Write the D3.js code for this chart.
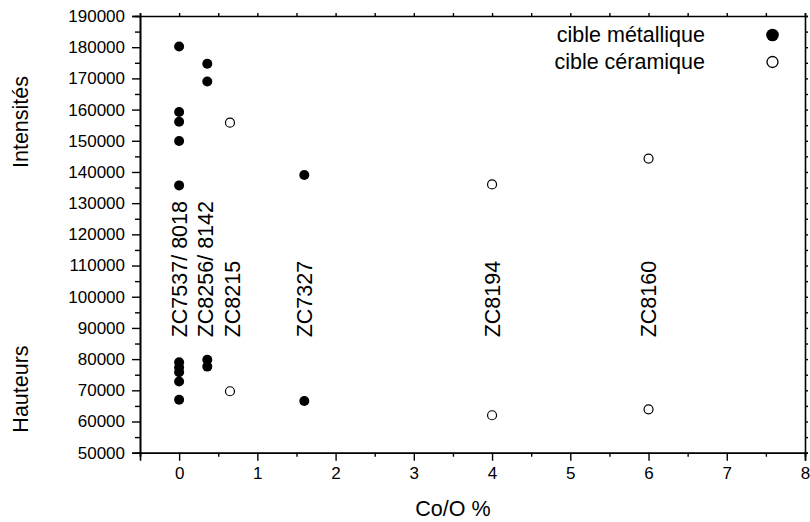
<!DOCTYPE html>
<html><head><meta charset="utf-8">
<script src="https://cdn.jsdelivr.net/npm/d3@7/dist/d3.min.js"></script>
<style>
body{margin:0;background:#fff;}
svg{display:block;font-family:"Liberation Sans",Arial,sans-serif;}
</style></head><body>
<svg id="chart" width="810" height="522"></svg>
<script>
// ---- data ----
const metalX = [0,0,0,0,0, 0,0,0,0,0, 0.36,0.36, 0.36,0.36, 1.6,1.6];
const metalY = [180200,159200,156100,149900,135700, 79000,77300,75800,72800,67000, 174700,169000, 79800,77600, 139000,66600];
const ceramX = [0.65,0.65, 4,4, 6,6];
const ceramY = [155800,69700, 136000,62000, 144300,63900];
const labelText = ["ZC7537/ 8018","ZC8256/ 8142","ZC8215","ZC7327","ZC8194","ZC8160"];
const labelX = [0,0.34,0.68,1.6,4,6];
const labelY = 87000;
const xTicks = [0,1,2,3,4,5,6,7,8];
const xMinor = [-0.5,0.5,1.5,2.5,3.5,4.5,5.5,6.5,7.5];
const yTicks = [50000,60000,70000,80000,90000,100000,110000,120000,130000,140000,150000,160000,170000,180000,190000];
const yMinor = [55000,65000,75000,85000,95000,105000,115000,125000,135000,145000,155000,165000,175000,185000];
const legendLabels = ["cible métallique","cible céramique"];
const xTitle = "Co/O %";
const yTitles = ["Intensités","Hauteurs"];

// ---- layout ----
const W=810,H=522, m={l:140,r:5,t:16,b:69.3};
const svg=d3.select("#chart");
const x=d3.scaleLinear().domain([-0.5,8]).range([m.l,W-m.r]);
const y=d3.scaleLinear().domain([50000,190000]).range([H-m.b,m.t]);

const fmt=d3.format("d");
function styleAxis(g){g.selectAll("path.domain").attr("stroke","#000").attr("stroke-width",1.6);
  g.selectAll(".tick line").attr("stroke","#000").attr("stroke-width",1.4);}

// bottom
const gb=svg.append("g").attr("transform",`translate(0,${H-m.b})`);
gb.call(d3.axisBottom(x).tickValues(xTicks).tickSize(8).tickPadding(6).tickFormat(fmt)).call(styleAxis);
gb.selectAll("text").attr("font-size",17).attr("fill","#000").attr("font-family","Liberation Sans, Arial, sans-serif");
svg.append("g").attr("transform",`translate(0,${H-m.b})`)
  .call(d3.axisBottom(x).tickValues(xMinor).tickSize(4).tickFormat("")).call(styleAxis);
// left
const gl=svg.append("g").attr("transform",`translate(${m.l},0)`);
gl.call(d3.axisLeft(y).tickValues(yTicks).tickSize(8).tickPadding(7).tickFormat(fmt)).call(styleAxis);
gl.selectAll("text").attr("font-size",17).attr("fill","#000").attr("font-family","Liberation Sans, Arial, sans-serif");
svg.append("g").attr("transform",`translate(${m.l},0)`)
  .call(d3.axisLeft(y).tickValues(yMinor).tickSize(5).tickFormat("")).call(styleAxis);
// top
svg.append("g").attr("transform",`translate(0,${m.t})`)
  .call(d3.axisTop(x).tickValues(xTicks.concat(xMinor)).tickSize(3).tickFormat("")).call(styleAxis);
// right
svg.append("g").attr("transform",`translate(${W-m.r},0)`)
  .call(d3.axisRight(y).tickValues(yTicks.concat(yMinor)).tickSize(3).tickFormat("")).call(styleAxis);

// points
svg.append("g").selectAll("circle").data(metalX).join("circle")
  .attr("cx",(d)=>x(d)).attr("cy",(d,i)=>y(metalY[i])).attr("r",5).attr("fill","#000");
svg.append("g").selectAll("circle").data(ceramX).join("circle")
  .attr("cx",(d)=>x(d)).attr("cy",(d,i)=>y(ceramY[i])).attr("r",4.5)
  .attr("fill","#fff").attr("stroke","#000").attr("stroke-width",1.2);

// sample labels
svg.append("g").selectAll("text").data(labelText).join("text")
  .attr("transform",(d,i)=>`translate(${x(labelX[i])},${y(labelY)}) rotate(-90)`)
  .attr("dy","0.36em").attr("font-size",21.5).attr("fill","#000").text(d=>d);

// titles
svg.append("text").attr("x",x(3.5)).attr("y",516).attr("text-anchor","middle")
  .attr("font-size",21.5).text(xTitle);
svg.append("text").attr("transform",`translate(28,122) rotate(-90)`).attr("text-anchor","middle")
  .attr("font-size",21.5).text(yTitles[0]);
svg.append("text").attr("transform",`translate(28,389) rotate(-90)`).attr("text-anchor","middle")
  .attr("font-size",21.5).text(yTitles[1]);

// legend
const lg=svg.append("g");
legendLabels.forEach((t,i)=>{
  lg.append("text").attr("x",705).attr("y",41.5+i*27).attr("text-anchor","end")
    .attr("font-size",21.5).text(t);
  const c=lg.append("circle").attr("cx",772.5).attr("cy",35+i*27).attr("r",i===0?6.3:5.5);
  if(i===0) c.attr("fill","#000"); else c.attr("fill","#fff").attr("stroke","#000").attr("stroke-width",1.3);
});
</script>
</body></html>
